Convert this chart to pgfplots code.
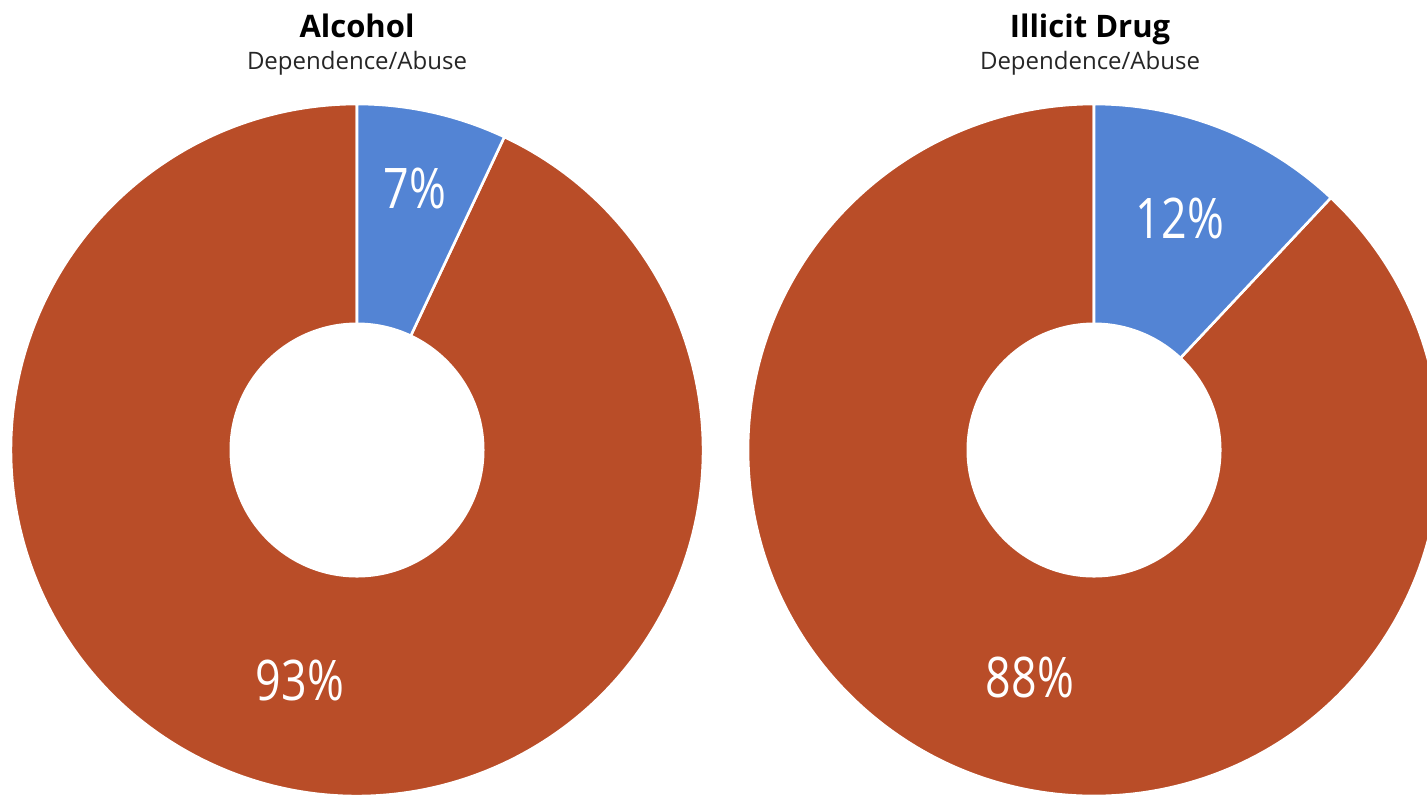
\documentclass[border=0pt]{standalone}
\usepackage{pgfplots}
\pgfplotsset{compat=1.18}
\usepackage{pgfplotstable}
\usepackage{fontspec}
\setmainfont{Open Sans}
\newfontfamily\condfont[FakeStretch=0.8]{Open Sans}
\definecolor{sliceblue}{HTML}{5384D4}
\definecolor{slicered}{HTML}{B94D28}
% share (%) of each donut: a = dependence/abuse group, b = rest
\pgfplotstableread{
chart cx  cy  a  b
0     357 450 7  93
1     1094 450 12 88
}\donutdata
\pgfplotstablegetelem{0}{a}\of\donutdata \edef\Aa{\pgfplotsretval}
\pgfplotstablegetelem{1}{a}\of\donutdata \edef\Ba{\pgfplotsretval}
\pgfmathsetmacro{\Aend}{90-3.6*\Aa}
\pgfmathsetmacro{\Bend}{90-3.6*\Ba}
\begin{document}
\begin{tikzpicture}
\useasboundingbox (0,0) rectangle (713.5pt,397pt);
\begin{axis}[
  at={(0,0)}, anchor=south west,
  width=713.5pt, height=397pt, scale only axis,
  xmin=0, xmax=1427, ymin=0, ymax=794, y dir=reverse,
  hide axis, clip=true,
]
% left donut
\fill[slicered, draw=white, line width=1.3pt] (axis cs:357,450) -- ++(\Aend:173pt) arc[start angle=\Aend, end angle=-270, radius=173pt] -- cycle;
\fill[sliceblue, draw=white, line width=1.3pt] (axis cs:357,450) -- ++(90:173pt) arc[start angle=90, end angle=\Aend, radius=173pt] -- cycle;
\fill[white] (axis cs:357,450) circle[radius=63.75pt];
% right donut
\fill[slicered, draw=white, line width=1.3pt] (axis cs:1094,450) -- ++(\Bend:173pt) arc[start angle=\Bend, end angle=-270, radius=173pt] -- cycle;
\fill[sliceblue, draw=white, line width=1.3pt] (axis cs:1094,450) -- ++(90:173pt) arc[start angle=90, end angle=\Bend, radius=173pt] -- cycle;
\fill[white] (axis cs:1094,450) circle[radius=63.75pt];
% labels
\node[text=white, font=\condfont\fontsize{28}{30}\selectfont] at (axis cs:415,188) {7\%};
\node[text=white, font=\condfont\fontsize{28}{30}\selectfont] at (axis cs:300,680) {93\%};
\node[text=white, font=\condfont\fontsize{28}{30}\selectfont] at (axis cs:1180,218) {12\%};
\node[text=white, font=\condfont\fontsize{28}{30}\selectfont] at (axis cs:1030,677) {88\%};
% titles
\node[anchor=base, font=\bfseries\fontsize{15.5}{17}\selectfont, inner sep=0pt] at (axis cs:357,37) {Alcohol};
\node[anchor=base, font=\fontsize{12}{14}\selectfont, text=black!85, inner sep=0pt] at (axis cs:357,69) {Dependence/Abuse};
\node[anchor=base, font=\bfseries\fontsize{15.5}{17}\selectfont, inner sep=0pt] at (axis cs:1090,37) {Illicit Drug};
\node[anchor=base, font=\fontsize{12}{14}\selectfont, text=black!85, inner sep=0pt] at (axis cs:1090,69) {Dependence/Abuse};
\end{axis}
\end{tikzpicture}
\end{document}
